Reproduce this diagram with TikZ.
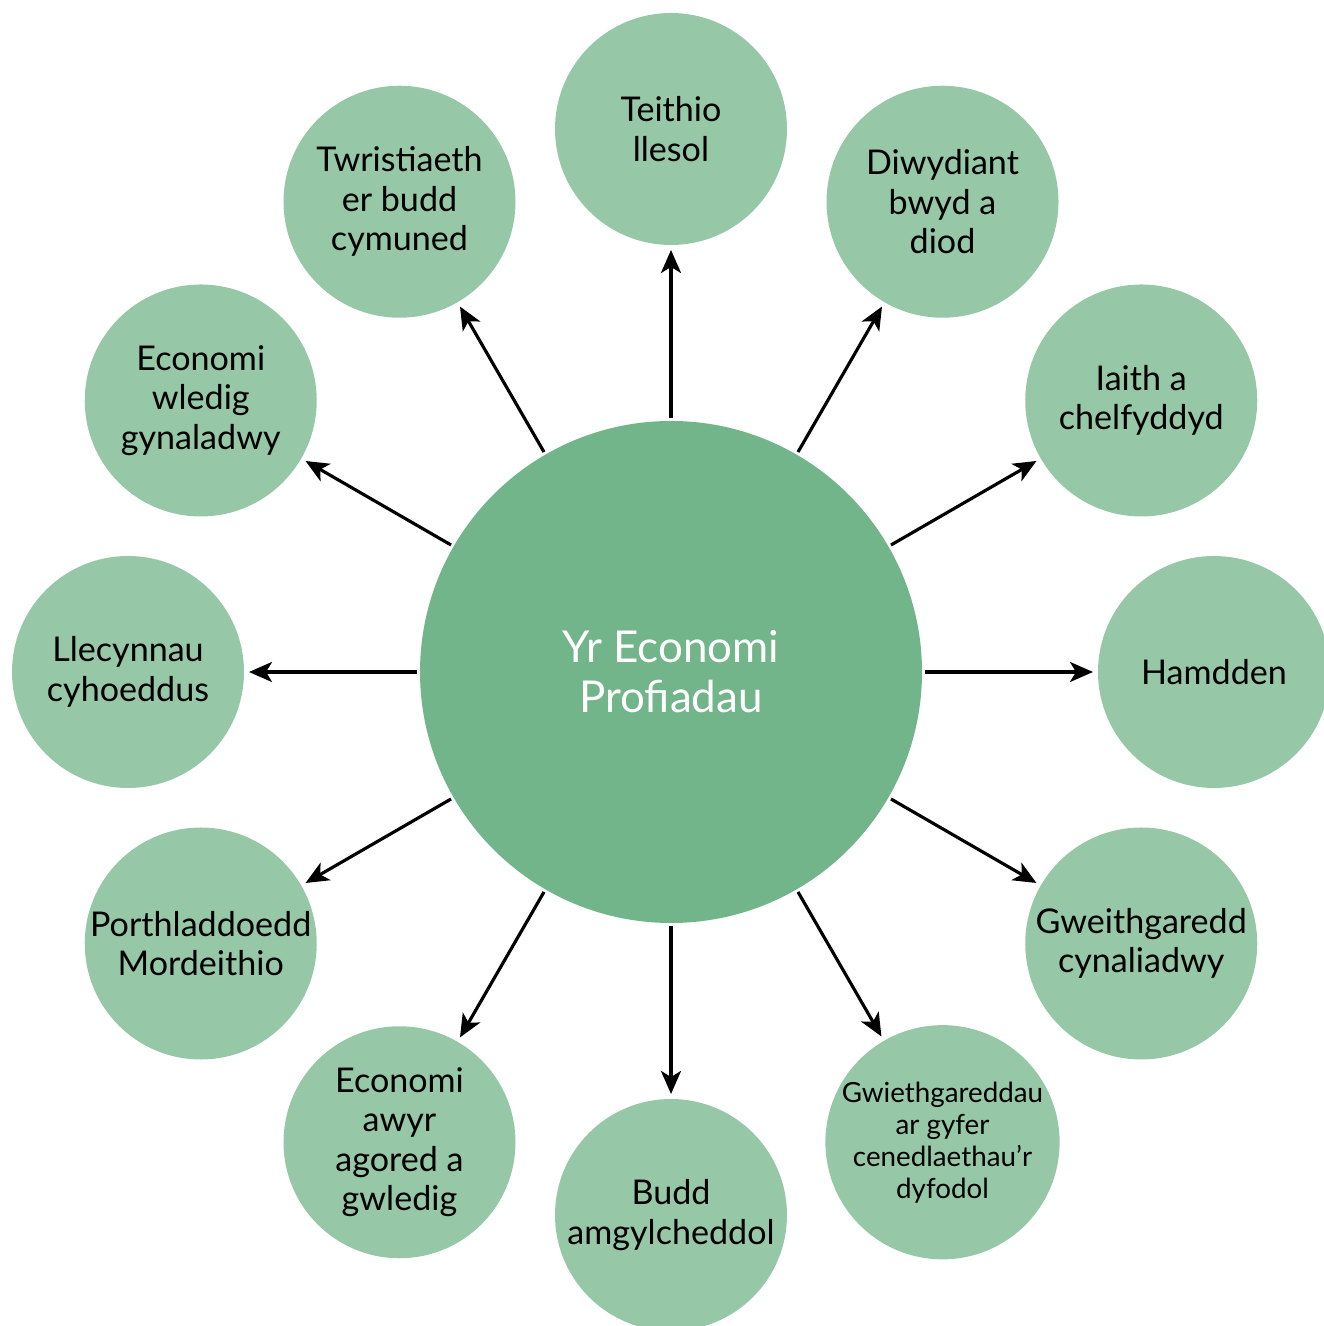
\documentclass[tikz,border=0pt]{standalone}
\usepackage{fontspec}
\setmainfont{Lato}
\usepackage{tikz}
\usetikzlibrary{arrows.meta, positioning}

\definecolor{hubgreen}{RGB}{114,181,138}
\definecolor{leafgreen}{RGB}{150,199,167}

\begin{document}
\begin{tikzpicture}[
    hub/.style={circle, fill=hubgreen, minimum size=5.02cm, inner sep=0pt, outer sep=0pt, align=center, text=white, font=\fontsize{12.5}{14.2}\selectfont},
    leaf/.style={circle, fill=leafgreen, minimum size=2.32cm, inner sep=0pt, outer sep=0pt, align=center, font=\fontsize{9.7}{11.2}\selectfont},
    smallleaf/.style={leaf, font=\fontsize{7.9}{9.1}\selectfont},
    arrow/.style={-{Stealth[length=2.3mm, width=2mm, inset=0.6mm]}, line width=0.9pt, shorten <=0.03cm, shorten >=0.05cm}
]
\useasboundingbox (-6.71,-6.54) rectangle (6.52,6.72);

% Centre
\node[hub] (hub) at (0,0) {Yr Economi\\Profiadau};

% Outer circles
\node[leaf] (teithio) at (90:5.43) {Teithio\\llesol};
\node[leaf] (bwyd) at (60:5.43) {Diwydiant\\bwyd a\\diod};
\node[leaf] (iaith) at (30:5.43) {Iaith a\\chelfyddyd};
\node[leaf] (hamdden) at (0:5.43) {Hamdden};
\node[leaf] (gweithgaredd) at (-30:5.43) {Gweithgaredd\\cynaliadwy};
\node[smallleaf] (dyfodol) at (-60:5.43) {Gwiethgareddau\\ar gyfer\\cenedlaethau’r\\dyfodol};
\node[leaf] (budd) at (-90:5.43) {Budd\\amgylcheddol};
\node[leaf] (awyr) at (-120:5.43) {Economi\\awyr\\agored a\\gwledig};
\node[leaf] (porthladd) at (-150:5.43) {Porthladdoedd\\Mordeithio};
\node[leaf] (llecynnau) at (180:5.43) {Llecynnau\\cyhoeddus};
\node[leaf] (gwledig) at (150:5.43) {Economi\\wledig\\gynaladwy};
\node[leaf] (twristiaeth) at (120:5.43) {Twristiaeth\\er budd\\cymuned};

% Arrows
\draw[arrow] (hub) -- (teithio);
\draw[arrow] (hub) -- (bwyd);
\draw[arrow] (hub) -- (iaith);
\draw[arrow] (hub) -- (hamdden);
\draw[arrow] (hub) -- (gweithgaredd);
\draw[arrow] (hub) -- (dyfodol);
\draw[arrow] (hub) -- (budd);
\draw[arrow] (hub) -- (awyr);
\draw[arrow] (hub) -- (porthladd);
\draw[arrow] (hub) -- (llecynnau);
\draw[arrow] (hub) -- (gwledig);
\draw[arrow] (hub) -- (twristiaeth);

\end{tikzpicture}
\end{document}
